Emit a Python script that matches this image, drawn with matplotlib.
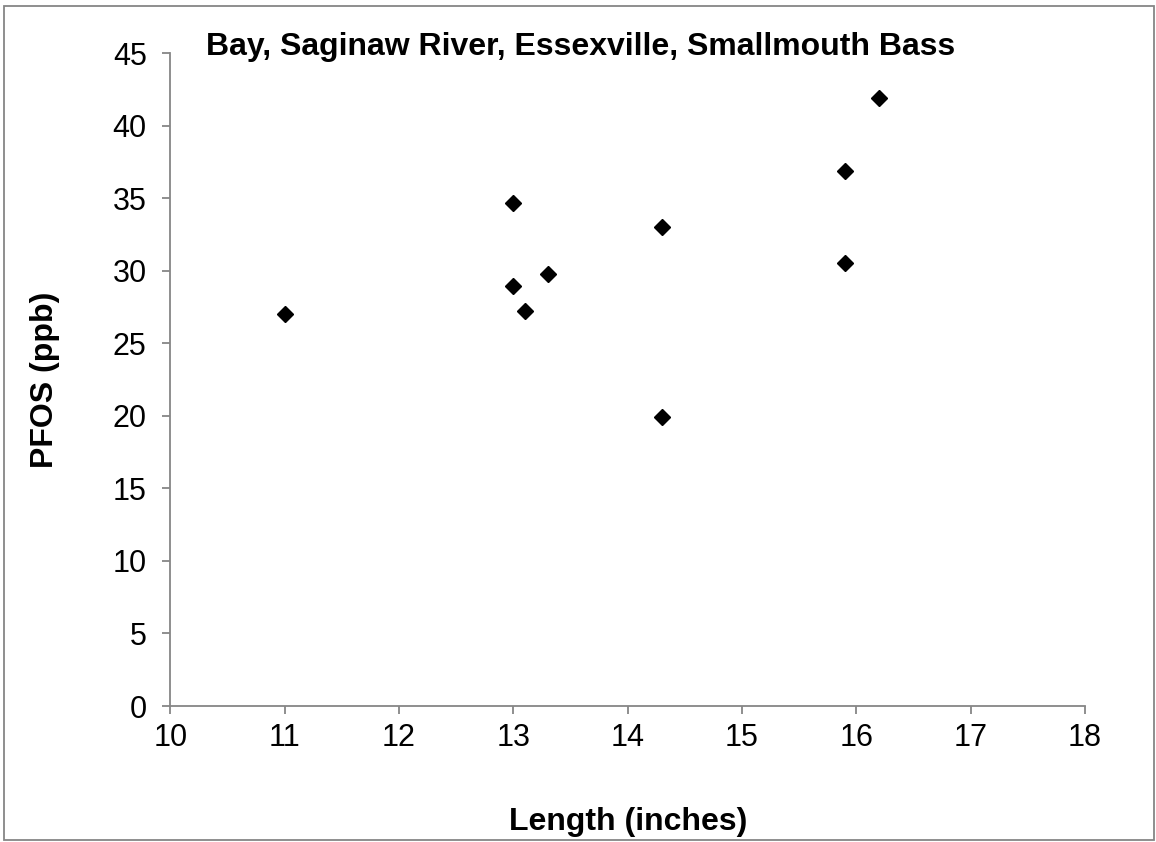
import matplotlib
matplotlib.use("Agg")
import matplotlib.pyplot as plt
from matplotlib.patches import Rectangle

plt.rcParams["font.family"] = ["Liberation Sans", "DejaVu Sans"]

length_in = [11.0, 13.0, 13.0, 13.1, 13.3, 14.3, 14.3, 15.9, 15.9, 16.2]
pfos_ppb = [27.0, 34.7, 28.95, 27.25, 29.8, 33.0, 19.9, 36.85, 30.5, 41.9]

x_ticks = [10, 11, 12, 13, 14, 15, 16, 17, 18]
y_ticks = [0, 5, 10, 15, 20, 25, 30, 35, 40, 45]

axis_grey = "#868686"

fig = plt.figure(figsize=(11.56, 8.42), dpi=100)
ax = fig.add_axes([0.1473, 0.1615, 0.7913, 0.7755])

ax.plot(length_in, pfos_ppb, linestyle="none", marker="D", ms=8.2,
        color="black", zorder=3)

ax.set_xlim(10, 18)
ax.set_ylim(0, 45)
ax.set_xticks(x_ticks)
ax.set_yticks(y_ticks)
ax.tick_params(labelsize=22, colors=axis_grey, labelcolor="black",
               length=6, width=1.3)
ax.tick_params(axis="y", pad=11)
ax.tick_params(axis="x", pad=6)

for side in ("top", "right"):
    ax.spines[side].set_visible(False)
for side in ("left", "bottom"):
    ax.spines[side].set_color(axis_grey)
    ax.spines[side].set_linewidth(1.3)

fig.text(628 / 1156, 1 - 822 / 842, "Length (inches)", ha="center",
         va="center", fontsize=23, fontweight="bold")
fig.text(45 / 1156, 1 - 380 / 842, "PFOS (ppb)", ha="center", va="center",
         rotation=90, fontsize=23, fontweight="bold")
fig.text(581 / 1156, 1 - 55 / 842,
         "Bay, Saginaw River, Essexville, Smallmouth Bass",
         ha="center", va="baseline", fontsize=23, fontweight="bold")

# chart-area border
fig.patches.append(Rectangle((0.0035, 0.002), 0.995, 0.9905,
                             transform=fig.transFigure, fill=False,
                             edgecolor=axis_grey, linewidth=1.3))

fig.savefig("out.png", dpi=100)
